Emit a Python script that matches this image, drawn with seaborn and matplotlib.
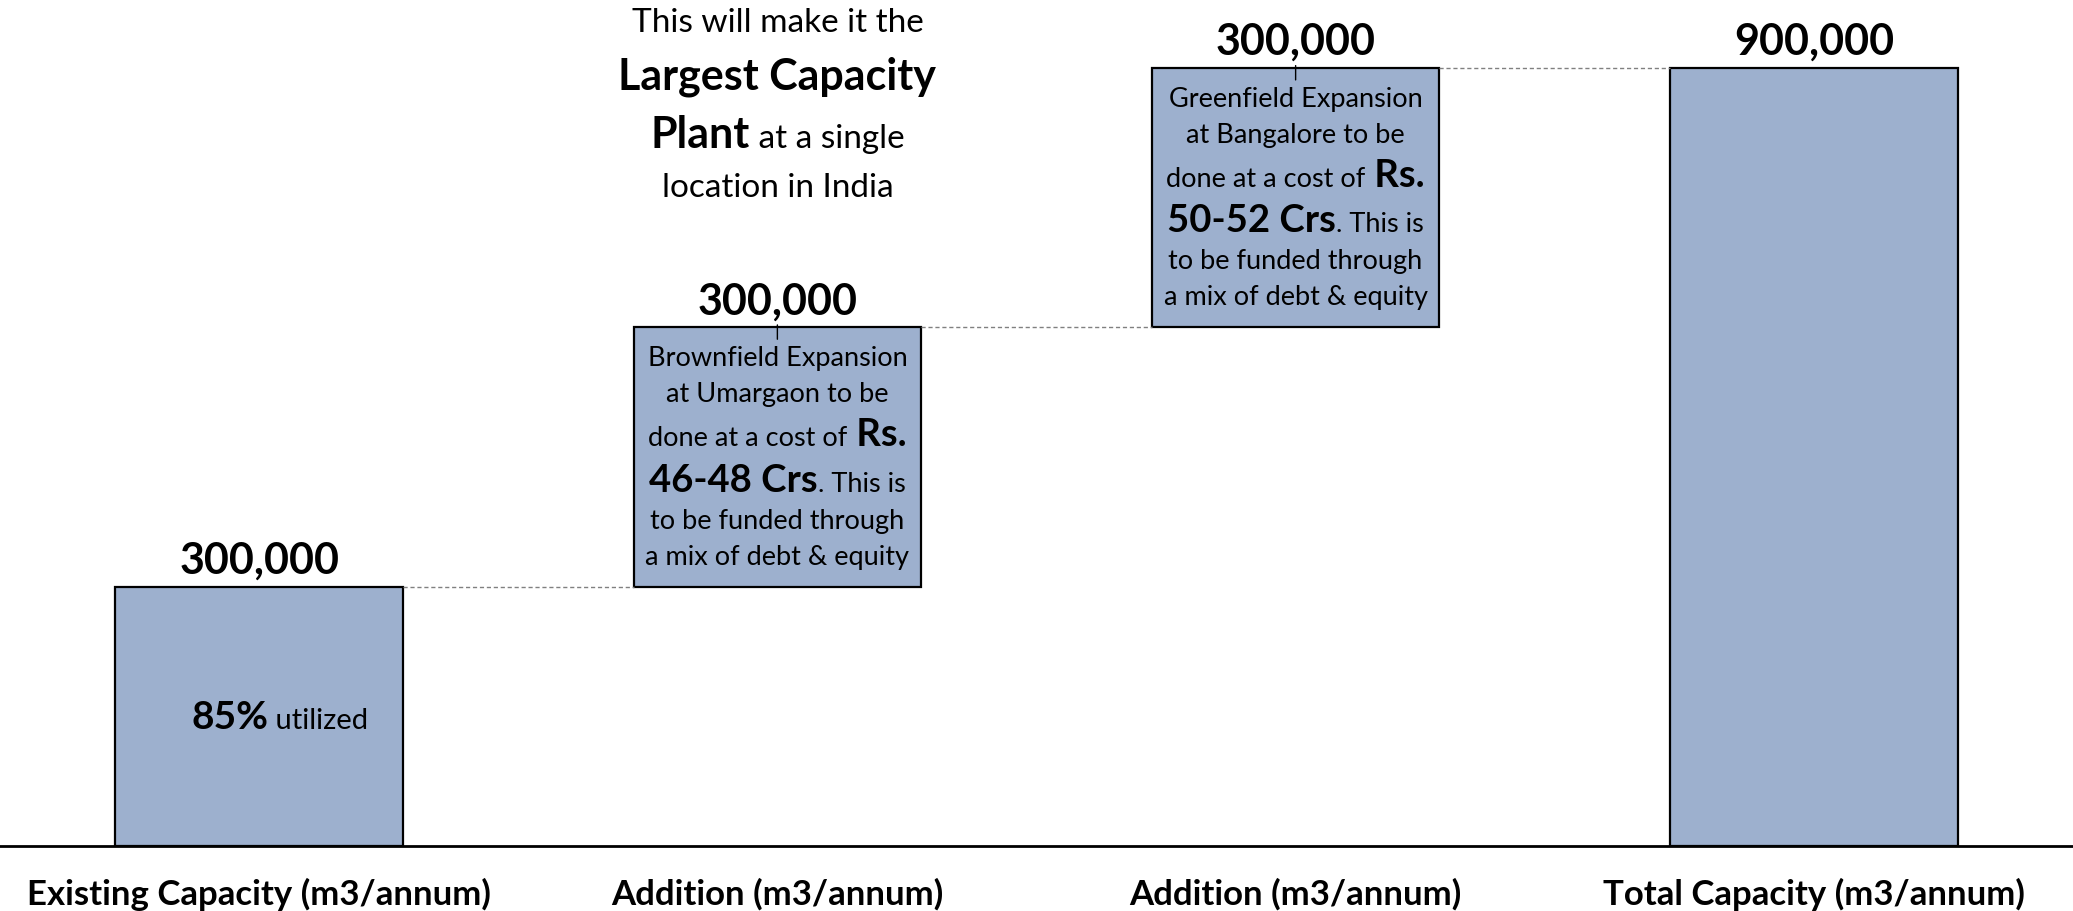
import pandas as pd
import seaborn as sns
import matplotlib.pyplot as plt
from matplotlib.offsetbox import TextArea, HPacker, VPacker, AnnotationBbox

# --- data ---
steps = ["existing", "brownfield", "greenfield", "total"]
tick_labels = ["Existing Capacity (m3/annum)", "Addition (m3/annum)",
               "Addition (m3/annum)", "Total Capacity (m3/annum)"]
capacity = [300000, 300000, 300000, 900000]
is_total = [False, False, False, True]

FONT = "Lato"
BAR = "#9DB0CE"

# waterfall bases
bases, run = [], 0
for v, tot in zip(capacity, is_total):
    if tot:
        bases.append(0)
    else:
        bases.append(run)
        run += v
tops = [b + v for b, v in zip(bases, capacity)]

df = pd.DataFrame({"step": steps, "capacity": capacity})

sns.set_style("white")
plt.rcParams["font.family"] = [FONT, "DejaVu Sans"]
plt.rcParams["text.color"] = "black"

fig = plt.figure(figsize=(20.73, 9.12), dpi=100)
ax = fig.add_axes([0, 0.0713, 1, 0.9287])

W = 0.555
sns.barplot(data=df, x="step", y="capacity", order=steps, color=BAR,
            saturation=1, edgecolor="black", linewidth=1.6, width=W, ax=ax)
for patch, b in zip(ax.patches, bases):
    patch.set_y(b)

ax.set_xlim(-0.5, 3.5)
ax.set_ylim(0, 900000 * 847 / 778)

# connectors
for i in range(len(steps) - 1):
    ax.hlines(tops[i], i + W / 2, i + 1 - W / 2, color="#808080",
              linestyle=(0, (3, 2)), linewidth=1)

# value labels
for i, (t, v) in enumerate(zip(tops, capacity)):
    ax.annotate(f"{v:,}", (i, t), xytext=(0, 5), textcoords="offset points",
                ha="center", va="bottom", fontsize=31, fontweight="bold",
                color="black")

# leader ticks on the additions
for i in (1, 2):
    ax.annotate("", (i, tops[i] - 17000), xytext=(i, tops[i] + 6000),
                arrowprops=dict(arrowstyle="-", color="black", lw=1))


def rich(x, y, lines, sep=3):
    rows = []
    for line in lines:
        parts = [TextArea(t, textprops=dict(fontsize=s, fontweight=w,
                                            family=FONT, color="black"))
                 for t, s, w in line]
        rows.append(HPacker(children=parts, align="baseline", pad=0, sep=0))
    box = VPacker(children=rows, align="center", pad=0, sep=sep)
    ab = AnnotationBbox(box, (x, y), xycoords="data", frameon=False,
                        box_alignment=(0.5, 0.5), pad=0)
    ax.add_artist(ab)


R, B = "normal", "bold"
rich(0.04, bases[0] + capacity[0] / 2, [[("85%", 28, B), (" utilized", 21, R)]])

rich(1, 858000, [
    [("This will make it the", 24, R)],
    [("Largest Capacity", 31, B)],
    [("Plant", 31, B), (" at a single", 24, R)],
    [("location in India", 24, R)],
], sep=13)

body = 19.5
big = 27.5
for i, where, cost in [(1, "Brownfield Expansion\nat Umargaon to be", "46-48 Crs"),
                       (2, "Greenfield Expansion\nat Bangalore to be", "50-52 Crs")]:
    first, second = where.split("\n")
    rich(i, bases[i] + capacity[i] / 2, [
        [(first, body, R)],
        [(second, body, R)],
        [("done at a cost of", body, R), (" Rs.", big, B)],
        [(cost, big, B), (". This is", body, R)],
        [("to be funded through", body, R)],
        [("a mix of debt & equity", body, R)],
    ], sep=8)

# axes styling
for s in ("top", "right", "left"):
    ax.spines[s].set_visible(False)
ax.spines["bottom"].set_color("black")
ax.spines["bottom"].set_linewidth(2)
ax.set_yticks([])
ax.set_xticks(range(len(steps)))
ax.set_xticklabels(tick_labels, fontsize=25, fontweight="bold")
ax.tick_params(axis="x", length=0, pad=22, colors="black")
ax.set_xlabel("")
ax.set_ylabel("")

fig.savefig("out.png", dpi=100)
